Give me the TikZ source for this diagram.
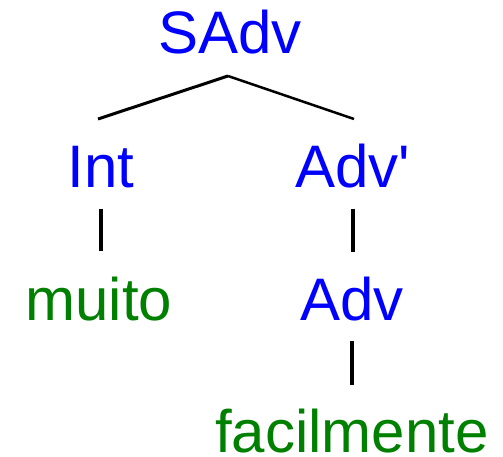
\documentclass[tikz,border=0pt]{standalone}
\usepackage{fontspec}
\setmainfont{Liberation Sans}
\usepackage{xcolor}

\begin{document}
\begin{tikzpicture}[x=1pt,y=1pt]
\tikzset{every node/.style={inner sep=0pt, anchor=base, font=\fontsize{60}{72}\selectfont}}
\tikzset{cat/.style={text=blue}, word/.style={text=green!50!black}}
\tikzset{branch/.style={black, line width=3.5pt}}
\useasboundingbox (0,0) rectangle (503,-457);
\node [cat] (sadv) at (230,-54) {SAdv};
\node [cat] (int) at (101,-188) {Int};
\node [cat] (advbar) at (353,-188) {Adv\textquotesingle};
\node [word] (muito) at (99,-320) {muito};
\node [cat] (adv) at (352,-320) {Adv};
\node [word] (facil) at (352,-452) {facilmente};
\coordinate (apex) at (228,-76);
\coordinate (int-top) at (98,-119);
\coordinate (advbar-top) at (354,-119);
\draw [branch, line width=3pt] (apex) -- (int-top);
\draw [branch, line width=2.5pt] (apex) -- (advbar-top);
\draw [branch, shorten <=20pt, shorten >=25pt] (int.south) -- (int.south |- muito.north);
\draw [branch, shorten <=20pt, shorten >=24pt] (advbar.south) -- (advbar.south |- adv.north);
\draw [branch, shorten <=20pt, shorten >=23pt] (adv.south) -- (adv.south |- facil.north);
\end{tikzpicture}
\end{document}
